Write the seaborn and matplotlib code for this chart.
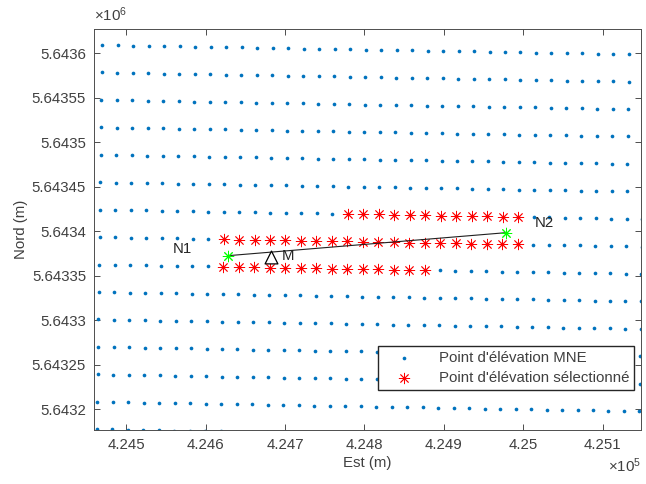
import numpy as np
import pandas as pd
import matplotlib
matplotlib.use('Agg')
import matplotlib.pyplot as plt
import seaborn as sns
from matplotlib.ticker import FuncFormatter

# Grille du MNE (coordonnées UTM, m)
est_colonnes = [424470.0, 424489.5, 424509.0, 424528.5, 424548.0, 424567.5,
                424587.0, 424606.5, 424626.0, 424645.5, 424665.0, 424684.5,
                424704.0, 424723.5, 424743.0, 424762.5, 424782.0, 424801.5,
                424821.0, 424840.5, 424860.0, 424879.5, 424899.0, 424918.5,
                424938.0, 424957.5, 424977.0, 424996.5, 425016.0, 425035.5,
                425055.0, 425074.5, 425094.0, 425113.5, 425133.0, 425152.5]
nord_lignes = [5643609.3, 5643578.5, 5643547.6, 5643516.8, 5643486.0,
               5643455.1, 5643424.3, 5643393.4, 5643362.6, 5643331.8,
               5643300.9, 5643270.1, 5643239.2, 5643208.4, 5643177.6]
pente_grille = 0.0155  # inclinaison de la grille (convergence des méridiens)

# Points sélectionnés : ligne -> (première colonne, dernière colonne)
selection = {6: (16, 27), 7: (8, 27), 8: (8, 21)}

n1 = (424628.6, 5643372.6)
n2 = (424977.9, 5643398.4)
point_m = (424681.9, 5643371.5)

xticks = [424500, 424600, 424700, 424800, 424900, 425000, 425100]
yticks = [5643200, 5643250, 5643300, 5643350, 5643400, 5643450, 5643500,
          5643550, 5643600]

# Construction de la grille
E, N = np.meshgrid(est_colonnes, nord_lignes)
E_g = E - pente_grille * (nord_lignes[0] - N)
N_g = N - pente_grille * (E - est_colonnes[0])
grille = pd.DataFrame({
    'est': E_g.ravel(),
    'nord': N_g.ravel(),
    'ligne': np.repeat(np.arange(len(nord_lignes)), len(est_colonnes)),
    'col': np.tile(np.arange(len(est_colonnes)), len(nord_lignes)),
})
masque = np.zeros(len(grille), dtype=bool)
for ligne, (c0, c1) in selection.items():
    masque |= (grille['ligne'] == ligne) & (grille['col'] >= c0) & (grille['col'] <= c1)
selectionnes = grille[masque]

sns.set_theme(style='white')
plt.rcParams['font.family'] = ['Liberation Sans', 'DejaVu Sans']
plt.rcParams['mathtext.default'] = 'regular'
couleur_texte = '#404040'
taille = 10.8

fig, ax = plt.subplots(figsize=(6.46, 4.84), dpi=100)
fig.subplots_adjust(left=0.146, right=0.992, bottom=0.1116, top=0.9395)

asterisque = (8, 2, 0)
sns.scatterplot(data=grille, x='est', y='nord', color='#0072BD', s=7,
                linewidth=0, ax=ax, label="Point d'élévation MNE", zorder=2)
sns.scatterplot(data=selectionnes, x='est', y='nord', color='#FF0000',
                marker=asterisque, s=58, linewidth=0.6, ax=ax,
                label="Point d'élévation sélectionné", zorder=3)
sns.lineplot(x=[n1[0], n2[0]], y=[n1[1], n2[1]], color='#202020',
             linewidth=0.8, ax=ax, zorder=4)
sns.scatterplot(x=[n1[0], n2[0]], y=[n1[1], n2[1]], color='#00FF00',
                marker=asterisque, s=58, linewidth=0.7, ax=ax, zorder=5,
                legend=False)
sns.scatterplot(x=[point_m[0]], y=[point_m[1]], marker='^', s=85,
                facecolor='white', edgecolor='black', linewidth=0.9,
                ax=ax, zorder=6, legend=False)

ax.text(424559, 5643380, 'N1', va='center', fontsize=taille, color='#262626')
ax.text(424696, 5643372, 'M', va='center', fontsize=taille, color='#262626')
ax.text(425014, 5643409, 'N2', va='center', fontsize=taille, color='#262626')

ax.set_xlim(424460, 425148)
ax.set_ylim(5643176.7, 5643627)
ax.set_xticks(xticks)
ax.set_yticks(yticks)
ax.xaxis.set_major_formatter(FuncFormatter(lambda v, p: f'{v / 1e5:g}'))
ax.yaxis.set_major_formatter(FuncFormatter(lambda v, p: f'{v / 1e6:g}'))
ax.tick_params(direction='in', length=4, width=0.7, colors='#4d4d4d',
               labelcolor=couleur_texte, labelsize=taille, top=True,
               right=True, bottom=True, left=True, pad=6)
for sp in ax.spines.values():
    sp.set_color('#4d4d4d')
    sp.set_linewidth(0.7)

ax.set_xlabel('Est (m)', fontsize=taille, color=couleur_texte)
ax.set_ylabel('Nord (m)', fontsize=taille, color=couleur_texte)
ax.xaxis.set_label_coords(0.5, -0.065)
ax.yaxis.set_label_coords(-0.122, 0.5)

ax.text(0.0, 1.012, '×10$^{6}$', transform=ax.transAxes, ha='left',
        va='bottom', fontsize=taille, color=couleur_texte)
ax.text(1.0, -0.065, '×10$^{5}$', transform=ax.transAxes, ha='right',
        va='top', fontsize=taille, color=couleur_texte)

ax.legend(loc='lower right', bbox_to_anchor=(0.988, 0.1), fancybox=False,
          edgecolor='#262626', framealpha=1, fontsize=taille,
          borderaxespad=0, borderpad=0.35, handlelength=2.8,
          handletextpad=0.9, labelspacing=0.35, labelcolor=couleur_texte)

fig.savefig('out.png', dpi=100)
